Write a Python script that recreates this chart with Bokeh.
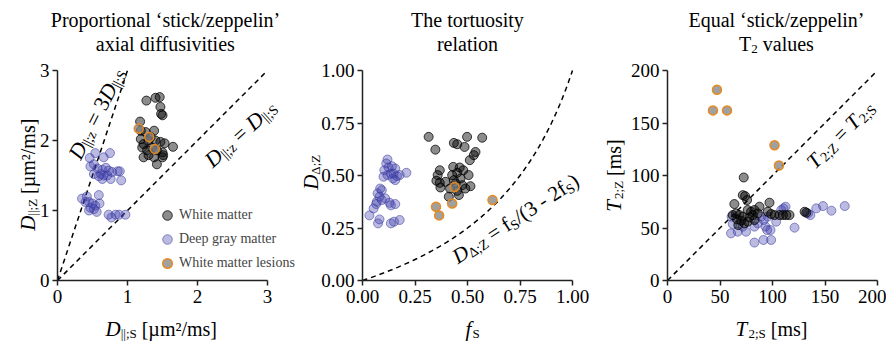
import numpy as np
from bokeh.plotting import figure
from bokeh.layouts import row
from bokeh.models import Range1d, FixedTicker, Label, Legend, LegendItem, NumeralTickFormatter
from bokeh.embed import file_html
from bokeh.resources import INLINE

FONT = "Liberation Serif"

# ---------------- data ----------------
# Panel 1: axial diffusivities [um^2/ms]
wm1_x = [1.27, 1.40, 1.46, 1.47, 1.48, 1.50, 1.18, 1.19, 1.26, 1.38, 1.19, 1.23, 1.30, 1.40, 1.47,
         1.53, 1.65, 1.21, 1.28, 1.35, 1.42, 1.50, 1.30, 1.38, 1.50, 1.42, 1.23, 1.33, 1.51]
wm1_y = [2.57, 2.61, 2.62, 2.48, 2.38, 2.36, 2.27, 2.14, 2.12, 2.14, 2.02, 1.95, 2.00, 2.00, 1.98,
         1.96, 1.91, 1.90, 1.86, 1.90, 1.86, 1.83, 1.79, 1.76, 1.76, 1.66, 1.76, 2.05, 1.79]
dgm1_x = [0.54, 0.75, 0.66, 0.46, 0.47, 0.52, 0.57, 0.64, 0.69, 0.73, 0.78, 0.86, 0.89, 0.62, 0.66,
          0.71, 0.76, 0.91, 0.59, 0.52, 0.64, 0.35, 0.42, 0.59, 0.40, 0.45, 0.50, 0.54, 0.60, 0.47,
          0.52, 0.45, 0.56, 0.73, 0.77, 0.83, 0.88, 0.97]
dgm1_y = [1.82, 1.82, 1.76, 1.75, 1.63, 1.66, 1.60, 1.58, 1.61, 1.57, 1.55, 1.56, 1.56, 1.52, 1.50,
          1.50, 1.45, 1.43, 1.49, 1.52, 1.45, 1.17, 1.20, 1.22, 1.12, 1.12, 1.10, 1.07, 1.10, 1.04,
          1.02, 1.00, 0.98, 0.94, 0.90, 0.94, 0.94, 0.94]
les1_x = [1.16, 1.31, 1.39]
les1_y = [2.17, 2.05, 1.88]

# Panel 2: tortuosity relation
wm2_x = [0.315, 0.347, 0.435, 0.451, 0.486, 0.498, 0.570, 0.511, 0.530, 0.538, 0.368, 0.358, 0.352,
         0.368, 0.395, 0.427, 0.432, 0.451, 0.467, 0.480, 0.505, 0.444, 0.475, 0.417, 0.514, 0.411,
         0.459, 0.490, 0.435, 0.463, 0.451, 0.371]
wm2_y = [0.684, 0.623, 0.655, 0.649, 0.636, 0.684, 0.680, 0.573, 0.597, 0.612, 0.525, 0.502, 0.475,
         0.465, 0.470, 0.502, 0.541, 0.513, 0.486, 0.525, 0.502, 0.462, 0.454, 0.438, 0.449, 0.399,
         0.407, 0.438, 0.478, 0.538, 0.427, 0.443]
dgm2_x = [0.119, 0.113, 0.124, 0.140, 0.156, 0.104, 0.100, 0.119, 0.135, 0.148, 0.164, 0.177, 0.209,
          0.156, 0.145, 0.084, 0.092, 0.072, 0.081, 0.068, 0.092, 0.065, 0.053, 0.129, 0.135, 0.156,
          0.033, 0.081, 0.074, 0.135, 0.150, 0.177, 0.108]
dgm2_y = [0.576, 0.557, 0.538, 0.544, 0.533, 0.525, 0.494, 0.502, 0.509, 0.509, 0.497, 0.502, 0.513,
          0.478, 0.486, 0.438, 0.430, 0.415, 0.399, 0.375, 0.383, 0.364, 0.343, 0.370, 0.358, 0.364,
          0.310, 0.291, 0.272, 0.272, 0.280, 0.288, 0.391]
les2_x = [0.350, 0.365, 0.427, 0.439, 0.619]
les2_y = [0.351, 0.310, 0.367, 0.445, 0.383]

# Panel 3: T2 values [ms]
wm3_x = [72.6, 71.7, 73.9, 75.8, 63.7, 87.6, 97.1, 65.3, 68.5, 76.4, 79.6, 82.8, 86.0, 81.2, 66.2,
         70.1, 67.5, 73.2, 78.0, 82.8, 95.5, 98.7, 101.9, 106.7, 109.9, 113.1, 116.2, 130.6, 132.2,
         62.1, 71.7, 76.4]
wm3_y = [98.1, 81.3, 80.4, 76.6, 72.8, 70.3, 74.1, 63.9, 62.3, 67.1, 65.5, 67.1, 63.9, 62.3, 58.2,
         57.0, 52.8, 54.4, 60.1, 57.6, 65.5, 63.3, 62.3, 62.3, 62.3, 62.3, 62.3, 65.5, 64.6,
         62.3, 60.8, 56.0]
dgm3_x = [61.1, 60.5, 66.9, 74.8, 62.1, 71.7, 82.8, 91.7, 93.3, 94.9, 98.1, 86.0, 103.5, 82.8, 91.4,
          98.7, 110.5, 108.3, 112.4, 121.0, 133.8, 136.0, 141.7, 148.1, 156.1, 168.8, 89.2, 95.5]
dgm3_y = [60.8, 44.9, 46.5, 46.5, 53.8, 51.3, 51.3, 57.6, 51.3, 48.1, 48.1, 54.4, 56.0, 36.1, 38.6,
          38.6, 68.7, 67.1, 70.3, 50.3, 63.9, 62.3, 68.7, 70.9, 66.5, 70.9, 60.8, 60.8]
les3_x = [47.1, 43.3, 56.7, 101.9, 106.1]
les3_y = [181.6, 162.0, 162.0, 128.8, 109.5]

ticks1 = [0, 1, 2, 3]
ticks2 = [0, 0.25, 0.5, 0.75, 1.0]
ticks3 = [0, 50, 100, 150, 200]
legend_labels = ["White matter", "Deep gray matter", "White matter lesions"]

# ---------------- styles ----------------
WM = dict(fill_color="black", fill_alpha=0.45, line_color="black", line_alpha=0.75, line_width=1)
DGM = dict(fill_color="#3b3bab", fill_alpha=0.35, line_color="#3b3b9e", line_alpha=0.55, line_width=1)
LES = dict(fill_color="#808080", fill_alpha=0.75, line_color="#e8891c", line_alpha=1.0, line_width=1.5)
MS = 9
H = 350            # canvas height
TOP, FH = 70, 210  # plot box top / size in canvas px

# approximate advance widths (em) for Times-like serif
WID = {c: 0.5 for c in "0123456789"}
WID.update({'a': .444, 'b': .5, 'c': .444, 'd': .5, 'e': .444, 'f': .333, 'g': .5, 'h': .5, 'i': .278,
            'j': .278, 'k': .5, 'l': .278, 'm': .778, 'n': .5, 'o': .5, 'p': .5, 'q': .5, 'r': .333,
            's': .389, 't': .278, 'u': .5, 'v': .5, 'w': .722, 'x': .5, 'y': .5, 'z': .444,
            'D': .722, 'S': .556, 'T': .611, 'Z': .611, 'E': .611, 'P': .556, ' ': .25, '|': .2,
            ';': .278, '=': .564, '[': .333, ']': .333, '/': .278, '(': .333, ')': .333, '-': .333,
            'µ': .5, '²': .3, 'Δ': .612, '‘': .333, '’': .333})


def tw(s, fs):
    return sum(WID.get(c, 0.5) for c in s) * fs


def rich(p, px, py, segs, angle_deg, align="center"):
    """Composite text; (px, py) = baseline anchor in canvas px (y down).
    segs: (text, size px, baseline shift px, italic)"""
    a = np.radians(angle_deg)
    total = sum(tw(t, fs) for t, fs, sh, it in segs)
    adv = -total / 2 if align == "center" else 0.0
    bx, by = px, H - py
    for t, fs, sh, it in segs:
        lead = len(t) - len(t.lstrip(" "))
        trail = len(t) - len(t.rstrip(" "))
        core = t.strip(" ")
        adv += lead * WID[" "] * fs
        ox = adv * np.cos(a) - sh * np.sin(a)
        oy = adv * np.sin(a) + sh * np.cos(a)
        p.add_layout(Label(x=bx + ox, y=by + oy, x_units="screen", y_units="screen",
                           text=core, angle=a, text_font=FONT, text_font_size=f"{fs}px",
                           text_font_style="italic" if it else "normal",
                           text_align="left", text_baseline="alphabetic", text_color="black"))
        adv += tw(core, fs) + trail * WID[" "] * fs


def make_fig(xlim, ylim, width, left, ticks, fmt=None):
    """Frame = whole canvas; axes pinned at the data origin, spanning xlim/ylim."""
    sx = FH / (xlim[1] - xlim[0])
    sy = FH / (ylim[1] - ylim[0])
    bottom = H - TOP - FH
    xr = Range1d(xlim[0] - left / sx, xlim[0] + (width - left) / sx)
    yr = Range1d(ylim[0] - bottom / sy, ylim[0] + (H - bottom) / sy)
    p = figure(width=width, height=H, x_range=xr, y_range=yr, min_border=0,
               output_backend="svg", toolbar_location=None)
    p.xgrid.visible = False
    p.ygrid.visible = False
    p.outline_line_color = None
    p.xaxis.fixed_location = ylim[0]
    p.yaxis.fixed_location = xlim[0]
    p.xaxis.bounds = xlim
    p.yaxis.bounds = ylim
    for ax in (p.xaxis[0], p.yaxis[0]):
        ax.ticker = FixedTicker(ticks=ticks)
        if fmt:
            ax.formatter = NumeralTickFormatter(format=fmt)
        ax.axis_line_width = 1.5
        ax.axis_line_color = "#222222"
        ax.major_tick_line_color = "#222222"
        ax.major_tick_line_width = 1.5
        ax.major_tick_out = 5
        ax.major_tick_in = 0
        ax.minor_tick_line_color = None
        ax.major_label_text_font = FONT
        ax.major_label_text_font_size = "19px"
        ax.major_label_text_color = "black"
    p.xaxis.major_label_standoff = 4
    p.yaxis.major_label_standoff = 3
    return p


def scatter_sets(p, dgx, dgy, wmx, wmy, lx, ly):
    r_d = p.scatter(dgx, dgy, size=MS, **DGM)
    r_w = p.scatter(wmx, wmy, size=MS, **WM)
    r_l = p.scatter(lx, ly, size=MS, **LES)
    return r_w, r_d, r_l


# ---------------- panel 1 (canvas x 0..297) ----------------
p1 = make_fig((0, 3), (0, 3), 297, 57, ticks1)
p1.line([0, 1], [0, 3], line_color="black", line_width=1.5, line_dash="5 4")
p1.line([0, 3], [0, 3], line_color="black", line_width=1.5, line_dash="5 4")
r_w, r_d, r_l = scatter_sets(p1, dgm1_x, dgm1_y, wm1_x, wm1_y, les1_x, les1_y)
leg = Legend(items=[LegendItem(label=legend_labels[0], renderers=[r_w]),
                    LegendItem(label=legend_labels[1], renderers=[r_d]),
                    LegendItem(label=legend_labels[2], renderers=[r_l])],
             location=(155, H - 275), padding=0, margin=0, spacing=-6,
             glyph_width=24, glyph_height=24, label_height=18, label_standoff=0,
             label_text_font=FONT, label_text_font_size="14px", label_text_baseline="middle",
             background_fill_alpha=0, border_line_color=None)
p1.add_layout(leg)

rich(p1, 165, 19, [("Proportional ‘stick/zeppelin’", 20, 0, False)], 0)
rich(p1, 165, 43, [("axial diffusivities", 20, 0, False)], 0)
rich(p1, 96, 113, [("D", 22, 0, True), ("||;z", 14, -5, False), (" = 3", 22, 0, False),
                   ("D", 22, 0, True), ("||;S", 14, -5, False)], 63)
rich(p1, 240, 133, [("D", 22, 0, True), ("||;z", 14, -5, False), (" = ", 22, 0, False),
                    ("D", 22, 0, True), ("||;S", 14, -5, False)], 42)
rich(p1, 160, 328, [("D", 21, 0, True), ("||;S", 13, -5, False), (" [µm²/ms]", 20, 0, False)], 0)
rich(p1, 27, 175, [("D", 21, 0, True), ("||;Z", 13, -5, False), (" [µm²/ms]", 20, 0, False)], 90)

# ---------------- panel 2 (canvas x 297..597) ----------------
O2 = 297
p2 = make_fig((0, 1), (0, 1), 300, 362 - O2, ticks2, fmt="0.00")
f_vals = np.linspace(0, 1, 101)
p2.line(f_vals, f_vals / (3 - 2 * f_vals), line_color="black", line_width=1.5, line_dash="5 4")
scatter_sets(p2, dgm2_x, dgm2_y, wm2_x, wm2_y, les2_x, les2_y)
rich(p2, 467 - O2, 19, [("The tortuosity", 20, 0, False)], 0)
rich(p2, 467 - O2, 43, [("relation", 20, 0, False)], 0)
rich(p2, 515 - O2, 218, [("D", 21, 0, True), ("Δ;Z", 14, -5, False), (" = f", 21, 0, False),
                         ("S", 14, -5, False), ("/(3 - 2f", 21, 0, False), ("S", 14, -5, False),
                         (")", 21, 0, False)], 33)
rich(p2, 472 - O2, 328, [("f", 21, 0, True), ("S", 13, -5, False)], 0)
rich(p2, 310 - O2, 172, [("D", 21, 0, True), ("Δ;Z", 13, -5, False)], 90)

# ---------------- panel 3 (canvas x 597..886) ----------------
O3 = 597
p3 = make_fig((0, 200), (0, 200), 289, 667 - O3, ticks3)
p3.line([0, 200], [0, 200], line_color="black", line_width=1.5, line_dash="5 4")
scatter_sets(p3, dgm3_x, dgm3_y, wm3_x, wm3_y, les3_x, les3_y)
rich(p3, 776 - O3, 19, [("Equal ‘stick/zeppelin’", 20, 0, False)], 0)
rich(p3, 776 - O3, 43, [("T", 20, 0, False), ("2", 13, -5, False), (" values", 20, 0, False)], 0)
rich(p3, 840 - O3, 134, [("T", 21, 0, True), ("2;Z", 14, -5, False), (" = ", 21, 0, False),
                         ("T", 21, 0, True), ("2;S", 14, -5, False)], 45)
rich(p3, 771 - O3, 328, [("T", 21, 0, True), ("2;S", 13, -5, False), (" [ms]", 20, 0, False)], 0)
rich(p3, 613 - O3, 175, [("T", 21, 0, True), ("2;Z", 13, -5, False), (" [ms]", 20, 0, False)], 90)

layout = row(p1, p2, p3, spacing=0)
open("out.html", "w").write(file_html(layout, INLINE))
